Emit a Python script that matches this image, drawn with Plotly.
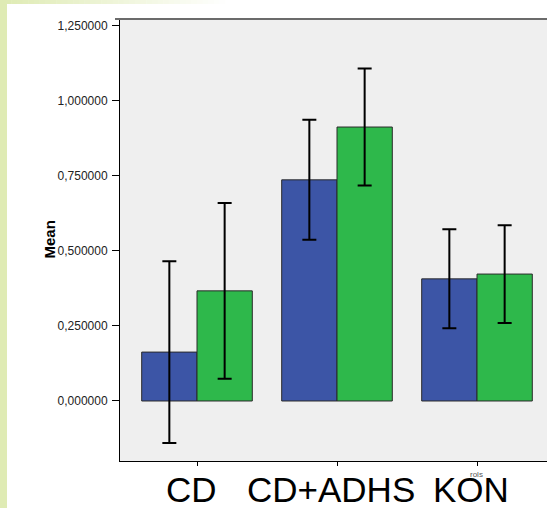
import plotly.graph_objects as go

# Group means with their error-bar half-widths
categories = ["CD", "CD+ADHS", "KON"]
series_a = [0.163, 0.737, 0.407]
series_a_err = [0.303, 0.200, 0.165]
series_b = [0.367, 0.913, 0.423]
series_b_err = [0.293, 0.195, 0.163]
y_ticks = [0.0, 0.25, 0.5, 0.75, 1.0, 1.25]

W, H = 547, 508
ML, MR, MT, MB = 120, 0, 19, 47
PW, PH = W - ML - MR, H - MT - MB


def px_x(p):
    return (p - ML) / PW


def px_y(p):
    return (H - MB - p) / PH


err_style = dict(type="data", visible=True, color="black", thickness=2, width=7)

fig = go.Figure()
fig.add_trace(go.Bar(
    x=categories, y=series_a,
    marker=dict(color="#3c55a6", line=dict(color="#2a2a2a", width=1)),
    error_y=dict(array=series_a_err, **err_style),
    showlegend=False,
))
fig.add_trace(go.Bar(
    x=categories, y=series_b,
    marker=dict(color="#2eb84b", line=dict(color="#2a2a2a", width=1)),
    error_y=dict(array=series_b_err, **err_style),
    showlegend=False,
))

shapes = []
# decorative pale-green frame: solid left strip, fading top strip
shapes.append(dict(type="rect", xref="paper", yref="paper",
                   x0=px_x(0), x1=px_x(7), y0=px_y(H), y1=px_y(0),
                   fillcolor="#dfebb4", line=dict(width=0), layer="below"))
steps = 40
x_end = 225
for i in range(steps):
    t = i / steps
    r = int(223 + (255 - 223) * t)
    g = int(235 + (255 - 235) * t)
    b = int(180 + (255 - 180) * t)
    shapes.append(dict(type="rect", xref="paper", yref="paper",
                       x0=px_x(x_end * i / steps), x1=px_x(x_end * (i + 1) / steps + 0.5),
                       y0=px_y(4), y1=px_y(0),
                       fillcolor=f"rgb({r},{g},{b})", line=dict(width=0), layer="below"))
# top frame line of the plotting area
shapes.append(dict(type="line", xref="paper", yref="paper",
                   x0=px_x(115), x1=1.0, y0=1.0, y1=1.0,
                   line=dict(color="#6b6b6b", width=2)))

# large category captions under the axis
annotations = [
    dict(text=c, xref="x", yref="paper", x=c, y=px_y(468), yanchor="top",
         xshift=-6, showarrow=False, font=dict(size=35, color="black"))
    for c in categories
]
annotations += [
    dict(text="<b>Mean</b>", xref="paper", yref="paper",
         x=px_x(38), y=px_y(240), textangle=-90, showarrow=False,
         font=dict(size=15, color="black")),
    dict(text="rols", xref="paper", yref="paper",
         x=px_x(485), y=px_y(481), showarrow=False,
         font=dict(size=8, color="#555555")),
]

fig.update_layout(
    width=W, height=H,
    margin=dict(l=ML, r=MR, t=MT, b=MB, pad=0),
    paper_bgcolor="white",
    plot_bgcolor="#efefef",
    barmode="group",
    bargap=0.21,
    bargroupgap=0,
    separators=",.",
    font=dict(family="Arial, Liberation Sans, sans-serif", color="#222222"),
    shapes=shapes,
    annotations=annotations,
    xaxis=dict(
        range=[-0.55, 2.5],
        automargin=False,
        showline=True, linecolor="black", linewidth=1,
        ticks="outside", ticklen=4, tickcolor="black",
        showticklabels=False,
        showgrid=False, zeroline=False, fixedrange=True,
    ),
    yaxis=dict(
        range=[-0.2, 1.273],
        automargin=False,
        tickvals=y_ticks,
        tickformat=".6f",
        showline=True, linecolor="black", linewidth=1,
        ticks="outside", ticklen=7, tickcolor="black",
        tickfont=dict(size=12, color="#222222"),
        ticklabelstandoff=2,
        showgrid=False, zeroline=False, fixedrange=True,
    ),
)

fig.write_html("out.html")
